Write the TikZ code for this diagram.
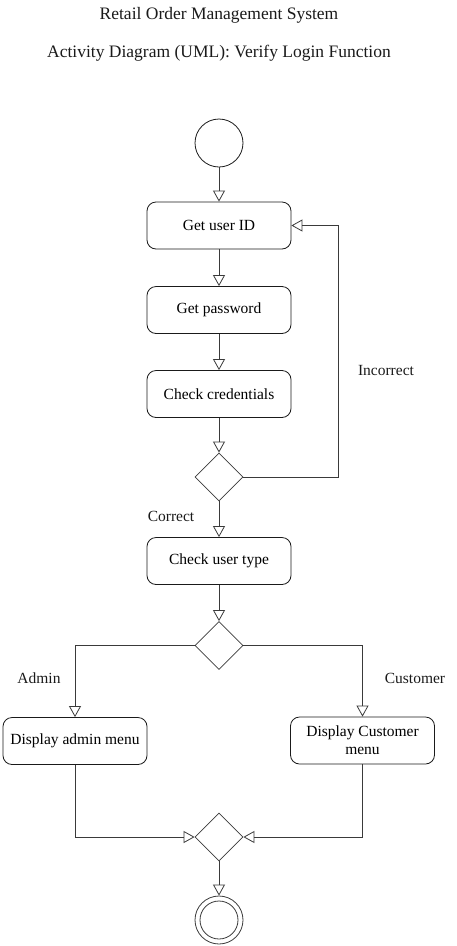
\documentclass[tikz,border=0pt]{standalone}
\usepackage{fontspec}
\setmainfont{Liberation Serif}
\usepackage{tikz}
\usetikzlibrary{arrows.meta,shapes.geometric}
\definecolor{ink}{HTML}{1A1A1A}
\definecolor{wire}{HTML}{3A3A3A}

\begin{document}
\begin{tikzpicture}[x=1pt,y=-1pt,>={Triangle[open,length=11pt,width=12pt]},
  act/.style={draw=ink,line width=0.8pt,rounded corners=9pt,minimum width=144pt,minimum height=47pt,align=center,font=\fontsize{15.5}{18}\selectfont,inner sep=2pt},
  choice/.style={draw=wire,line width=0.8pt,diamond,aspect=1,minimum width=48pt,minimum height=48pt,inner sep=0pt},
  flow/.style={->,draw=wire,line width=0.8pt},
  guard/.style={font=\fontsize{15.5}{18}\selectfont,text=ink},
  caption/.style={font=\fontsize{17.5}{20}\selectfont,text=ink}]
\useasboundingbox (0,0) rectangle (456,946);
% titles
\node[caption] (t1) at (219,15) {Retail Order Management System};
\node[caption] (t2) at (219,53) {Activity Diagram (UML): Verify Login Function};
% login loop
\node[draw=ink,line width=0.8pt,circle,minimum size=48pt,inner sep=0pt] (start) at (219,143) {};
\node[act] (getid) at (219,225.5) {Get user ID};
\node[act] (getpw) at (219,310) {Get password};
\node[act] (check) at (219,394) {Check credentials};
\node[choice] (dec1) at (219,477) {};
\coordinate (loop) at (338,225.5);
\draw[flow] (start) -- (getid);
\draw[flow] (getid) -- (getpw);
\draw[flow] (getpw) -- (check);
\draw[flow] (check) -- (dec1);
\draw[flow] (dec1.east) -| (loop) -- (getid.east);
\node[guard] (incorrect) at (386,370) {Incorrect};
\node[guard] (correct) at (171,516) {Correct};
% user type
\node[act] (usertype) at (219,561) {Check user type};
\draw[flow] (dec1.south) -- (usertype);
\node[choice] (dec2) at (219,645.5) {};
\draw[flow] (usertype) -- (dec2);
\node[act] (admin) at (75,741) {Display admin menu};
\node[act] (cust) at (362.5,740.5) {Display Customer\\menu};
\draw[flow] (dec2.west) -| (admin.north);
\draw[flow] (dec2.east) -| (cust.north);
\node[guard] (ladmin) at (39,678) {Admin};
\node[guard] (lcust) at (415,678) {Customer};
% merge and end
\node[choice] (merge) at (219,837) {};
\draw[flow] (admin.south) |- (merge.west);
\draw[flow] (cust.south) |- (merge.east);
\node[draw=wire,line width=0.8pt,circle,minimum size=48pt,inner sep=0pt] (stop) at (219,920) {};
\draw[wire,line width=0.8pt] (stop.center) circle (19);
\draw[flow] (merge.south) -- (stop);
\end{tikzpicture}
\end{document}
